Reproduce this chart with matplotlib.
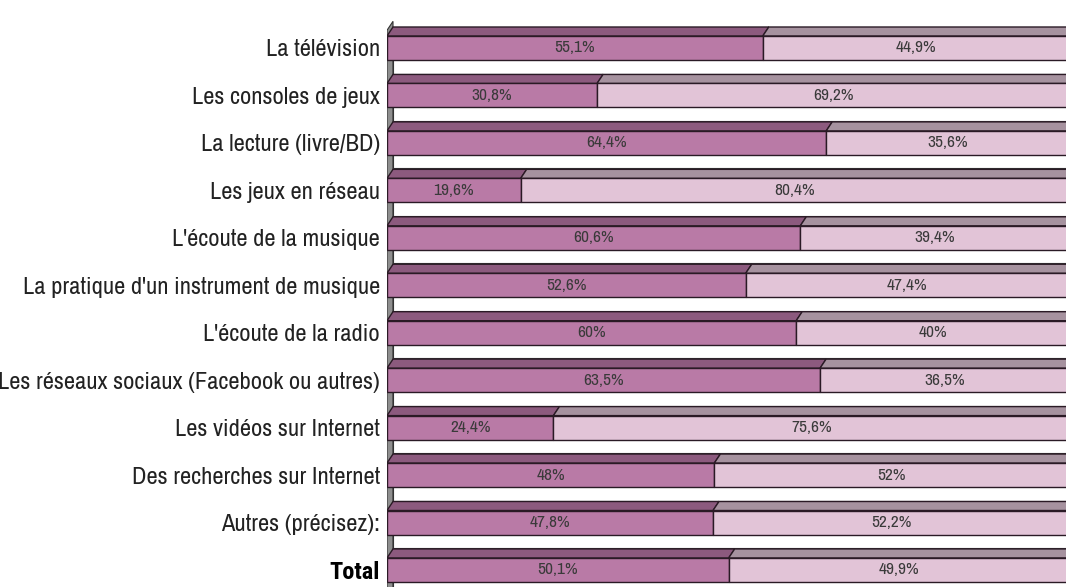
import matplotlib
matplotlib.use("Agg")
import matplotlib.pyplot as plt
from matplotlib.patches import Polygon
from matplotlib import font_manager

categories = [
    "La télévision",
    "Les consoles de jeux",
    "La lecture (livre/BD)",
    "Les jeux en réseau",
    "L'écoute de la musique",
    "La pratique d'un instrument de musique",
    "L'écoute de la radio",
    "Les réseaux sociaux (Facebook ou autres)",
    "Les vidéos sur Internet",
    "Des recherches sur Internet",
    "Autres (précisez):",
    "Total",
]
oui = [55.1, 30.8, 64.4, 19.6, 60.6, 52.6, 60, 63.5, 24.4, 48, 47.8, 50.1]
non = [44.9, 69.2, 35.6, 80.4, 39.4, 47.4, 40, 36.5, 75.6, 52, 52.2, 49.9]

fonts = font_manager.fontManager.ttflist
names = {f.name for f in fonts}
cands = ["Liberation Sans Narrow", "Arial Narrow", "Archivo Narrow", "Roboto Condensed", "PT Sans Narrow", "Pragati Narrow"]
narrow = "DejaVu Sans"
for cand in cands:
    if cand in names:
        narrow = cand
        break
bold_family = narrow
if not any(f.name == narrow and int(f.weight) >= 600 for f in fonts):
    for cand in cands:
        if any(f.name == cand and int(f.weight) >= 600 for f in fonts):
            bold_family = cand
            break

W, H = 1066, 587
fig = plt.figure(figsize=(W / 100, H / 100), dpi=100)
fig.patch.set_facecolor("white")

x0_px = 387
px_per_100 = 682
ax = fig.add_axes([x0_px / W, 0, px_per_100 / W, 1])

row_px = 47.45
first_px = 48
ax.set_ylim((H - first_px) / row_px, -first_px / row_px)
ax.set_xlim(0, 100)

bar_h = 24 / row_px
dy = 9 / row_px
dx = 6 / (px_per_100 / 100)

dark_front = "#b97aa6"
dark_top = "#8c5a7e"
light_front = "#e2c4d7"
light_top = "#a6929f"
edge = "#2a1a25"

n = len(categories)
ytop = -bar_h / 2 - 0.12
ybot = n - 1 + 0.8
ax.add_patch(Polygon([(0, ybot), (0, ytop), (dx, ytop - dy), (dx, ybot)],
                     closed=True, facecolor="#8e8e8e", edgecolor="#333333", lw=0.8, zorder=1))

def fmt(v):
    s = ("%.1f" % v).rstrip("0").rstrip(".")
    return s.replace(".", ",") + "%"

for i in range(n):
    y = i
    yt = y - bar_h / 2
    # floor edge line in the gap below each bar
    ax.plot([dx, dx, 100 + dx], [y + bar_h / 2 + 0.02, yt + 1 - dy - 0.02, yt + 1 - dy - 0.02],
            color="#333333", lw=0.8, zorder=1.5)
    left = 0
    for v, tc in ((oui[i], dark_top), (non[i], light_top)):
        ax.add_patch(Polygon([(left, yt), (left + v, yt), (left + v + dx, yt - dy), (left + dx, yt - dy)],
                             closed=True, facecolor=tc, edgecolor=edge, lw=1.0, zorder=2))
        left += v
    ax.barh([y], [oui[i]], left=0, height=bar_h, color=dark_front, edgecolor=edge, lw=1.0, zorder=3)
    ax.barh([y], [non[i]], left=oui[i], height=bar_h, color=light_front, edgecolor=edge, lw=1.0, zorder=3)
    ax.text(oui[i] / 2, y, fmt(oui[i]), ha="center", va="center", fontsize=12.5,
            family=narrow, color="#3a3a3a", zorder=4)
    ax.text(oui[i] + non[i] / 2, y, fmt(non[i]), ha="center", va="center", fontsize=12.5,
            family=narrow, color="#3a3a3a", zorder=4)

ax.set_yticks(range(n))
ax.set_yticklabels(categories)
for i, lab in enumerate(ax.get_yticklabels()):
    lab.set_family(narrow)
    lab.set_fontsize(17.6)
    lab.set_color("#222222")
    if categories[i] == "Total":
        lab.set_family(bold_family)
        lab.set_fontweight("bold")
        lab.set_color("black")
ax.tick_params(axis="y", length=0, pad=5)
ax.set_xticks([])
for s in ax.spines.values():
    s.set_visible(False)
ax.patch.set_alpha(0)

fig.savefig("out.png", dpi=100)
